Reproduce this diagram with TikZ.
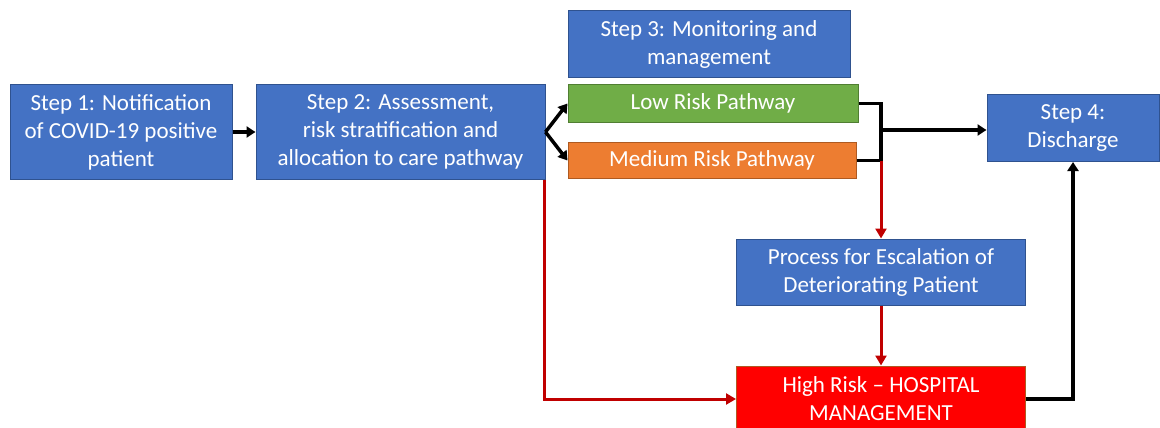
\documentclass[tikz,border=0pt]{standalone}
\usepackage{fontspec}
\setmainfont{Carlito}
\usetikzlibrary{arrows.meta}

\definecolor{boxblue}{HTML}{4472C4}
\definecolor{edgeblue}{HTML}{2F528F}
\definecolor{boxgreen}{HTML}{70AD47}
\definecolor{edgegreen}{HTML}{507E32}
\definecolor{boxorange}{HTML}{ED7D31}
\definecolor{edgeorange}{HTML}{AE5A21}
\definecolor{boxred}{HTML}{FF0000}
\definecolor{linered}{HTML}{C00000}

\begin{document}
\begin{tikzpicture}[
            x=1pt, y=-1pt,
            every node/.style={inner sep=2pt, text=white, align=center,
                font=\fontsize{23}{28}\selectfont},
            stepbox/.style={draw=edgeblue, fill=boxblue, line width=1pt},
            lowbox/.style={draw=edgegreen, fill=boxgreen, line width=1pt},
            medbox/.style={draw=edgeorange, fill=boxorange, line width=1pt},
            highbox/.style={draw=edgeorange, fill=boxred, line width=1pt},
            blackline/.style={draw=black, line width=3.5pt,
                -{Triangle[length=9pt,width=11pt]}},
            redline/.style={draw=linered, line width=3pt,
                -{Triangle[length=10pt,width=11pt]}}
        ]
        \useasboundingbox (0,0) rectangle (1160,428);
        % boxes
        \node[stepbox, minimum width=222pt, minimum height=94pt] (S1) at (121,132)
            {Step 1: Notification\\of COVID-19 positive\\patient};
        \node[stepbox, minimum width=289pt, minimum height=94pt] (S2) at (400.5,132)
            {Step 2: Assessment,\\risk stratification and\\allocation to care pathway};
        \node[stepbox, minimum width=282pt, minimum height=67pt] (S3) at (709,44)
            {Step 3: Monitoring and\\management};
        \node[lowbox, minimum width=290pt, minimum height=38pt] (PL) at (713,103.5)
            {Low Risk Pathway};
        \node[medbox, minimum width=288pt, minimum height=36pt] (PM) at (712,160.5)
            {Medium Risk Pathway};
        \node[stepbox, minimum width=172pt, minimum height=67pt] (S4) at (1073,128)
            {Step 4:\\Discharge};
        \node[stepbox, minimum width=289pt, minimum height=66pt] (Esc) at (881,272)
            {Process for Escalation of\\Deteriorating Patient};
        \node[highbox, minimum width=289pt, minimum height=66pt] (PH) at (881,399)
            {High Risk -- HOSPITAL\\MANAGEMENT};
        \coordinate (J) at (881,130);
        % black connectors
        \draw[blackline] (S1) -- (S2);
        \draw[blackline] (S2.east) -- (PL.west);
        \draw[blackline] (S2.east) -- (PM.west);
        \draw[line width=3.5pt] (PL.east) -| (J);
        \draw[line width=3.5pt] (PM.east) -| (J);
        \draw[blackline] (J) -- (J -| S4.west);
        \draw[blackline] (PH.east) -| (S4.south);
        % red connectors
        \draw[redline] (PM.east -| J) -- (Esc.north);
        \draw[redline] (Esc) -- (PH);
        \draw[redline] ([xshift=-1pt]S2.south east) |- (PH.west);
\end{tikzpicture}
\end{document}
